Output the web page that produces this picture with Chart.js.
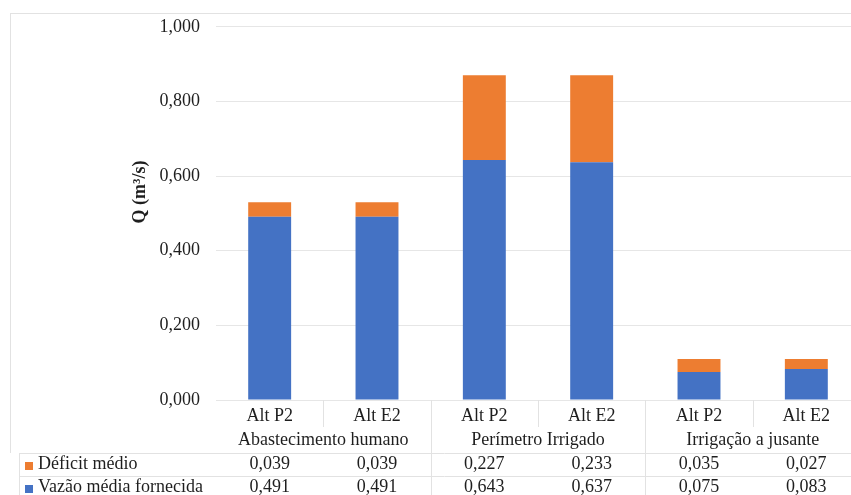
<!DOCTYPE html>
<html>
<head>
<meta charset="utf-8">
<script src="https://cdn.jsdelivr.net/npm/chart.js@4/dist/chart.umd.min.js"></script>
<style>
  html, body { margin: 0; padding: 0; background: #ffffff; overflow: hidden; }
  #wrap { width: 870px; height: 495px; position: relative; }
</style>
</head>
<body>
<div id="wrap"><canvas id="c" width="870" height="495"></canvas></div>
<script>
// Alternatives per use, grouped by water use
const categories = ['Alt P2', 'Alt E2', 'Alt P2', 'Alt E2', 'Alt P2', 'Alt E2'];
const groups = ['Abastecimento humano', 'Perímetro Irrigado', 'Irrigação a jusante'];
const deficitMedio = [0.039, 0.039, 0.227, 0.233, 0.035, 0.027];
const vazaoFornecida = [0.491, 0.491, 0.643, 0.637, 0.075, 0.083];
const yTicks = [0, 0.2, 0.4, 0.6, 0.8, 1.0];

const BLUE = '#4472C4';
const ORANGE = '#ED7D31';
const TEXT = '#1e1e1e';
const LINE = '#e2e2e2';
const FONT = '"Liberation Serif", "Times New Roman", serif';

const fmt = v => v.toFixed(3).replace('.', ',');

// Data table drawn under the plot, aligned to the category scale
const dataTable = {
  id: 'dataTable',
  afterDraw(chart) {
    const ctx = chart.ctx;
    const x = chart.scales.x;
    const area = chart.chartArea;
    const step = x.getPixelForValue(1) - x.getPixelForValue(0);
    const W = chart.width;
    const base = area.bottom;
    const rowCat = base + 21;
    const rowGrp = base + 45;
    const line1 = base + 53;
    const line2 = base + 76;
    const rowDef = base + 69;
    const rowVaz = base + 92;

    ctx.save();
    // frame lines
    ctx.strokeStyle = LINE;
    ctx.lineWidth = 1;
    ctx.beginPath();
    ctx.moveTo(10, 13.5); ctx.lineTo(W, 13.5);
    ctx.moveTo(10.5, 13); ctx.lineTo(10.5, line1);
    ctx.moveTo(19, line1 + 0.5); ctx.lineTo(W, line1 + 0.5);
    ctx.moveTo(19, line2 + 0.5); ctx.lineTo(W, line2 + 0.5);
    ctx.moveTo(19.5, line1); ctx.lineTo(19.5, chart.height);
    for (let i = 0; i < categories.length - 1; i++) {
      const xb = Math.round(x.getPixelForValue(i) + step / 2) + 0.5;
      ctx.moveTo(xb, base);
      ctx.lineTo(xb, i % 2 === 1 ? chart.height : base + 27);
    }
    ctx.stroke();

    ctx.fillStyle = TEXT;
    ctx.font = '18px ' + FONT;
    ctx.textAlign = 'center';
    ctx.textBaseline = 'alphabetic';
    categories.forEach((c, i) => {
      const cx = x.getPixelForValue(i);
      ctx.fillText(c, cx, rowCat);
      ctx.fillText(fmt(deficitMedio[i]), cx, rowDef);
      ctx.fillText(fmt(vazaoFornecida[i]), cx, rowVaz);
    });
    groups.forEach((g, k) => {
      const gx = (x.getPixelForValue(2 * k) + x.getPixelForValue(2 * k + 1)) / 2;
      ctx.fillText(g, gx, rowGrp);
    });

    // series keys
    ctx.textAlign = 'left';
    ctx.fillStyle = ORANGE;
    ctx.fillRect(25, rowDef - 7, 8, 8);
    ctx.fillStyle = BLUE;
    ctx.fillRect(25, rowVaz - 7, 8, 8);
    ctx.fillStyle = TEXT;
    ctx.fillText('Déficit médio', 38, rowDef);
    ctx.fillText('Vazão média fornecida', 38, rowVaz);

    // axis title
    ctx.translate(140, 192);
    ctx.rotate(-Math.PI / 2);
    ctx.textAlign = 'center';
    ctx.textBaseline = 'middle';
    ctx.font = 'bold 18px ' + FONT;
    ctx.fillText('Q (m³/s)', 0, 0);
    ctx.restore();
  }
};

new Chart(document.getElementById('c'), {
  type: 'bar',
  data: {
    labels: categories,
    datasets: [
      {
        label: 'Vazão média fornecida',
        data: vazaoFornecida,
        backgroundColor: BLUE,
        borderWidth: 0,
        stack: 's'
      },
      {
        label: 'Déficit médio',
        data: deficitMedio,
        backgroundColor: ORANGE,
        borderWidth: 0,
        stack: 's'
      }
    ]
  },
  options: {
    responsive: false,
    animation: false,
    devicePixelRatio: 1,
    layout: { padding: { left: 0, top: 26, right: 10, bottom: 95 } },
    datasets: { bar: { categoryPercentage: 1.0, barPercentage: 0.4 } },
    plugins: { legend: { display: false }, tooltip: { enabled: false } },
    scales: {
      x: { display: false, stacked: true, grid: { display: false } },
      y: {
        stacked: true,
        min: 0,
        max: 1,
        afterFit(scale) { scale.width = 216; },
        afterBuildTicks(scale) { scale.ticks = yTicks.map(v => ({ value: v })); },
        border: { display: false },
        grid: { color: '#e6e6e6', drawTicks: false, lineWidth: 1 },
        ticks: {
          padding: 16,
          color: TEXT,
          font: { family: FONT, size: 18 },
          callback: v => fmt(v)
        }
      }
    }
  },
  plugins: [dataTable]
});
</script>
</body>
</html>
